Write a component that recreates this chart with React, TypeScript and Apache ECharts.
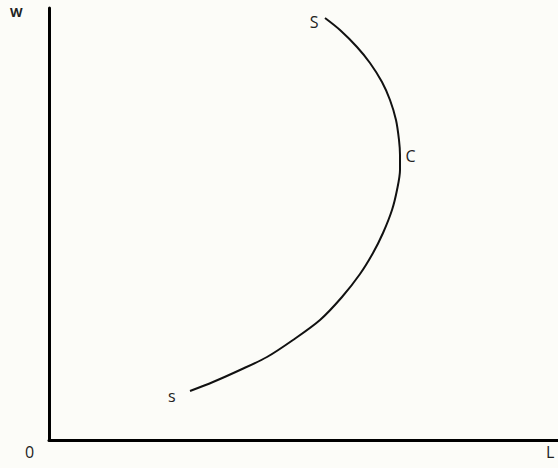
import React, { useEffect, useRef } from "react";
import * as echarts from "echarts";

// Labour supply (backward-bending) curve, in arbitrary units
const laborValues = [141, 164, 191, 218, 244, 271, 293, 311, 324, 334, 343, 348, 351, 351, 350, 347, 341, 333, 321, 308, 291, 276];
const wageValues = [49, 58, 70, 83, 100, 120, 143, 166, 187, 207, 230, 250, 270, 285, 300, 320, 340, 358, 377, 393, 410, 422];
const pointLabels = ["s", "", "", "", "", "", "", "", "", "", "", "", "", "C", "", "", "", "", "", "", "", "S"];
const axisNames = { y: "W", x: "L", origin: "0" };

const FONT = "'Open Sans', 'Noto Sans', sans-serif";

export default function App() {
  const ref = useRef<HTMLDivElement>(null);
  useEffect(() => {
    if (!ref.current) return;
    const chart = echarts.init(ref.current, undefined, { renderer: "svg" });
    const data = laborValues.map((l, i) => {
      const lab = pointLabels[i];
      const item: any = { value: [l, wageValues[i]] };
      if (lab) {
        const pos = lab === "C" ? "right" : "left";
        item.label = {
          show: true,
          formatter: lab,
          position: pos,
          distance: lab === "C" ? 5 : lab === "s" ? 14 : 6,
          offset: lab === "C" ? [0, 1] : lab === "s" ? [0, 5] : [0, 4],
          fontFamily: FONT,
          fontSize: 16,
          color: "#222",
        };
      }
      return item;
    });
    chart.setOption({
      animation: false,
      backgroundColor: "#fcfcf8",
      grid: { left: 49, right: 0, top: 8, bottom: 28 },
      xAxis: {
        type: "value",
        min: 0,
        max: 509,
        axisLine: { show: true, onZero: false, lineStyle: { color: "#000", width: 3 } },
        axisTick: { show: false },
        axisLabel: { show: false },
        splitLine: { show: false },
      },
      yAxis: {
        type: "value",
        min: 0,
        max: 432,
        axisLine: { show: true, onZero: false, lineStyle: { color: "#000", width: 3 } },
        axisTick: { show: false },
        axisLabel: { show: false },
        splitLine: { show: false },
      },
      series: [
        {
          type: "line",
          data,
          smooth: 0.3,
          showSymbol: true,
          symbol: "circle",
          symbolSize: 1,
          itemStyle: { color: "rgba(0,0,0,0)" },
          lineStyle: { color: "#111", width: 2 },
          label: { show: false },
        },
      ],
      graphic: [
        {
          type: "text",
          left: 10,
          top: 5,
          style: { text: axisNames.y, font: `bold 13px ${FONT}`, fill: "#222" },
        },
        {
          type: "text",
          left: 25,
          top: 444,
          style: { text: axisNames.origin, font: `16px ${FONT}`, fill: "#222" },
        },
        {
          type: "text",
          left: 546,
          top: 444,
          style: { text: axisNames.x, font: `16px ${FONT}`, fill: "#222" },
        },
      ],
    });
    return () => chart.dispose();
  }, []);
  return <div ref={ref} style={{ width: 558, height: 468, position: "absolute", left: 0, top: 0 }} />;
}
